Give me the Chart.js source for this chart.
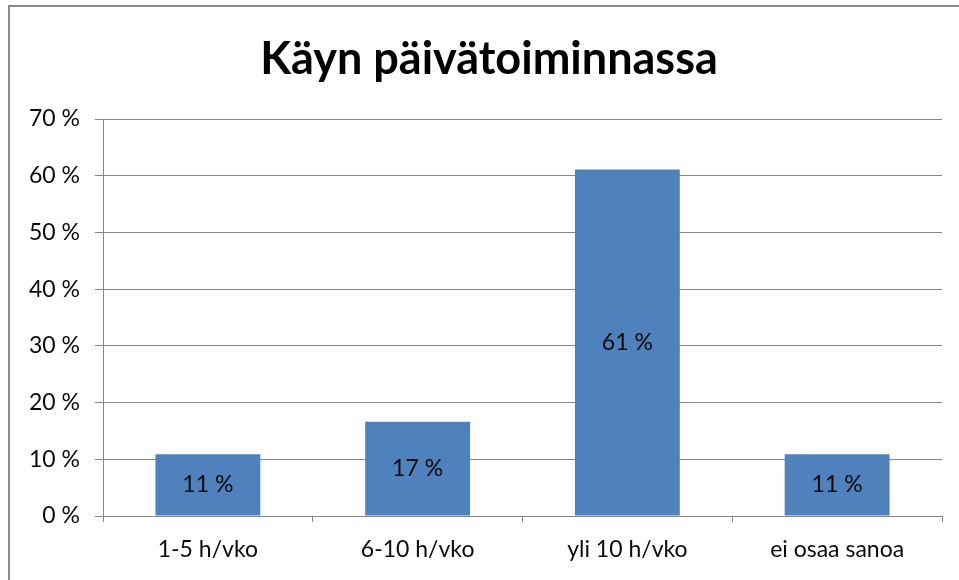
<!DOCTYPE html>
<html lang="fi">
<head>
  <meta charset="UTF-8" />
  <title>Käyn päivätoiminnassa</title>
  <script src="https://cdn.jsdelivr.net/npm/chart.js"></script>
  <style>
    html, body {
      margin: 0;
      padding: 0;
      background: #ffffff;
      overflow: hidden;
    }
    .wrap {
      position: relative;
      width: 959px;
      height: 580px;
    }
    /* frame of the chart object: only top and left edges are visible */
    .frame {
      position: absolute;
      left: 8px;
      top: 5px;
      width: 1000px;
      height: 1000px;
      border-top: 2px solid #8a8a8a;
      border-left: 2px solid #8a8a8a;
      pointer-events: none;
    }
    #chart {
      position: absolute;
      left: 0;
      top: 0;
    }
  </style>
</head>
<body>
  <div class="wrap">
    <canvas id="chart" width="959" height="580"></canvas>
    <div class="frame"></div>
  </div>

  <script>
    const titleText = 'Käyn päivätoiminnassa';
    const categories = ['1-5 h/vko', '6-10 h/vko', 'yli 10 h/vko', 'ei osaa sanoa'];
    const shares = [10.9, 16.6, 61.1, 10.9];
    const yTicks = [0, 10, 20, 30, 40, 50, 60, 70];

    const FONT = 'Lato, "Open Sans", sans-serif';
    const GRID = '#878787';

    // title centred over the whole frame, not only the canvas minus padding
    const frameTitle = {
      id: 'frameTitle',
      afterDraw(chart) {
        const ctx = chart.ctx;
        ctx.save();
        ctx.font = 'bold 45px ' + FONT;
        ctx.fillStyle = '#000';
        ctx.textAlign = 'center';
        ctx.textBaseline = 'middle';
        ctx.fillText(titleText, 489, 59);
        ctx.restore();
      }
    };

    // value labels in the middle of each bar
    const barLabels = {
      id: 'barLabels',
      afterDatasetsDraw(chart) {
        const ctx = chart.ctx;
        ctx.save();
        ctx.font = '23px ' + FONT;
        ctx.fillStyle = '#0a0a0a';
        ctx.textAlign = 'center';
        ctx.textBaseline = 'middle';
        chart.getDatasetMeta(0).data.forEach((bar, i) => {
          ctx.fillText(Math.round(shares[i]) + ' %', bar.x, (bar.y + bar.base) / 2);
        });
        ctx.restore();
      }
    };

    new Chart(document.getElementById('chart'), {
      type: 'bar',
      data: {
        labels: categories,
        datasets: [{
          data: shares,
          backgroundColor: '#4f81bd',
          borderWidth: 0,
          barPercentage: 0.5,
          categoryPercentage: 1.0
        }]
      },
      options: {
        responsive: false,
        animation: false,
        layout: { padding: { left: 0, right: 17, top: 119, bottom: 0 } },
        plugins: {
          legend: { display: false },
          tooltip: { enabled: false },
          title: { display: false }
        },
        scales: {
          x: {
            grid: {
              drawOnChartArea: false,
              drawTicks: true,
              tickLength: 6,
              color: GRID,
              offset: true
            },
            border: { display: true, color: GRID, width: 1 },
            ticks: {
              color: '#0a0a0a',
              font: { family: FONT, size: 23 },
              padding: 14,
              maxRotation: 0
            },
            afterFit(scale) { scale.height = 64; }
          },
          y: {
            min: 0,
            max: 70,
            afterBuildTicks(scale) {
              scale.ticks = yTicks.map(v => ({ value: v }));
            },
            grid: {
              color: GRID,
              tickLength: 8,
              drawTicks: true
            },
            border: { display: true, color: GRID, width: 1 },
            ticks: {
              color: '#0a0a0a',
              font: { family: FONT, size: 23 },
              padding: 15,
              callback: v => v + ' %'
            },
            afterFit(scale) { scale.width = 103; }
          }
        }
      },
      plugins: [barLabels, frameTitle]
    });
  </script>
</body>
</html>
